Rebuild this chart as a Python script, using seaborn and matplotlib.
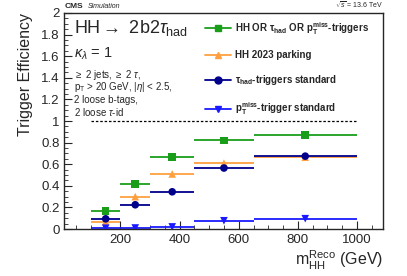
import numpy as np
import pandas as pd
import matplotlib
matplotlib.use("Agg")
import matplotlib.pyplot as plt
import seaborn as sns
from matplotlib.lines import Line2D
from matplotlib.ticker import MultipleLocator

# bins in m_HH reco (GeV)
bin_lo = [100, 200, 300, 450, 650]
bin_hi = [200, 300, 450, 650, 1000]
bin_center = [150, 250, 375, 550, 825]

eff_combined = [0.165, 0.415, 0.665, 0.82, 0.87]
eff_parking = [0.07, 0.30, 0.51, 0.61, 0.665]
eff_tau = [0.095, 0.225, 0.345, 0.565, 0.675]
eff_met = [0.008, 0.01, 0.02, 0.077, 0.096]

labels = [
    r"HH OR $\mathbf{\tau_{had}}$ OR $\mathbf{p_{T}^{miss}}$-triggers",
    "HH 2023 parking",
    r"$\mathbf{\tau_{had}}$-triggers standard",
    r"$\mathbf{p_{T}^{miss}}$-trigger standard",
]
colors = ["#1a9e1a", "#ffa040", "#00008b", "#1a1aff"]
markers = ["s", "^", "o", "v"]
series = [eff_combined, eff_parking, eff_tau, eff_met]

rows = []
for lab, vals in zip(labels, series):
    for lo, hi, c, v in zip(bin_lo, bin_hi, bin_center, vals):
        rows.append({"trigger": lab, "lo": lo, "hi": hi, "x": c, "eff": v})
df = pd.DataFrame(rows)

sns.set_style("ticks")
plt.rcParams["font.family"] = ["Liberation Sans", "DejaVu Sans"]
plt.rcParams["mathtext.fontset"] = "custom"
plt.rcParams["mathtext.rm"] = "Liberation Sans"
plt.rcParams["mathtext.it"] = "Liberation Sans:italic"
plt.rcParams["mathtext.bf"] = "Liberation Sans:bold"

fig = plt.figure(figsize=(4.07, 2.76), dpi=100)
ax = fig.add_axes([0.158, 0.170, 0.783, 0.783])

for lab, col in zip(labels, colors):
    sub = df[df["trigger"] == lab]
    ax.hlines(sub["eff"], sub["lo"], sub["hi"], color=col, lw=1.3, zorder=2)

sns.scatterplot(data=df, x="x", y="eff", hue="trigger", style="trigger",
                palette=dict(zip(labels, colors)),
                markers=dict(zip(labels, markers)),
                s=30, edgecolor="none", legend=False, ax=ax, zorder=3)

ax.hlines(1.0, 100, 1000, color="black", lw=0.9, linestyles=(0, (2, 1.5)))

ax.set_xlim(10, 1088)
ax.set_ylim(0, 2)
ax.xaxis.set_major_locator(MultipleLocator(200))
ax.xaxis.set_minor_locator(MultipleLocator(50))
ax.yaxis.set_major_locator(MultipleLocator(0.2))
ax.yaxis.set_minor_locator(MultipleLocator(0.05))
ax.set_yticks(np.arange(0, 2.01, 0.2))
ax.set_yticklabels(["0", "0.2", "0.4", "0.6", "0.8", "1", "1.2", "1.4", "1.6", "1.8", "2"])
ax.tick_params(axis="both", which="both", direction="in", labelsize=9.5,
               top=False, right=False)
ax.tick_params(axis="both", which="major", length=6, width=0.8)
ax.tick_params(axis="both", which="minor", length=3, width=0.6)
for sp in ax.spines.values():
    sp.set_linewidth(1.0)

ax.set_xlabel(r"m$_{\rm HH}^{\rm Reco}$ (GeV)", fontsize=11.5, loc="right", labelpad=2)
ax.set_ylabel("Trigger Efficiency", fontsize=11.5, loc="top", labelpad=6)

ax.text(0.0, 1.012, "CMS", transform=ax.transAxes, fontsize=6, fontweight="bold",
        ha="left", va="bottom")
ax.text(0.075, 1.012, "Simulation", transform=ax.transAxes, fontsize=5, style="italic",
        ha="left", va="bottom")
ax.text(1.0, 1.012, r"$\sqrt{s}$ = 13.6 TeV", transform=ax.transAxes, fontsize=5,
        ha="right", va="bottom")

ax.text(0.03, 0.93, r"HH$\rightarrow$ 2b2$\tau_{\rm had}$", transform=ax.transAxes,
        fontsize=13, ha="left", va="center")
ax.text(0.03, 0.81, r"$\kappa_{\lambda}$ = 1", transform=ax.transAxes,
        fontsize=10.5, ha="left", va="center")
info = [r"$\geq$ 2 jets, $\geq$ 2 $\tau$,",
        r"p$_{\rm T}$ > 20 GeV, |$\eta$| < 2.5,",
        "2 loose b-tags,",
        r"2 loose $\tau$-id"]
for i, t in enumerate(info):
    ax.text(0.03, 0.715 - i * 0.058, t, transform=ax.transAxes, fontsize=7,
            ha="left", va="center")

handles = [Line2D([0], [0], color=c, marker=m, lw=1.3, ms=5, mec=c)
           for c, m in zip(colors, markers)]
leg = ax.legend(handles, labels, loc="upper left", bbox_to_anchor=(0.43, 0.985),
                frameon=False, prop={"weight": "bold", "size": 7},
                labelspacing=1.35, handlelength=2.6, handletextpad=0.5,
                borderaxespad=0)

fig.savefig("out.png", dpi=100)
